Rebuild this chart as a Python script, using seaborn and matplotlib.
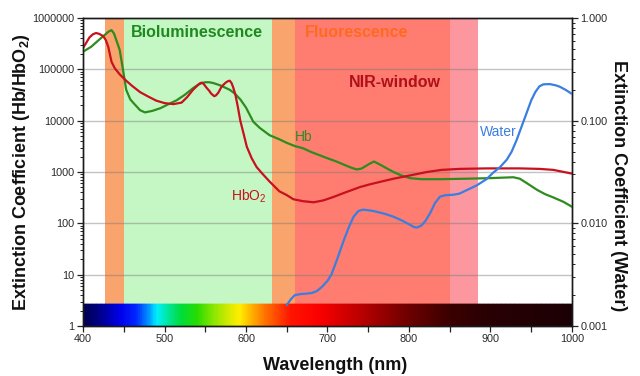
import numpy as np
import pandas as pd
import matplotlib
matplotlib.use("Agg")
import matplotlib.pyplot as plt
from matplotlib.colors import LinearSegmentedColormap
from matplotlib.ticker import LogLocator, NullFormatter, FixedLocator, FixedFormatter, MultipleLocator
import seaborn as sns

# ---------------- data ----------------
hb_nm = [400, 410, 420, 430, 432, 435, 438, 442, 445, 449, 453, 458, 462, 470, 476, 485, 495, 505,
         515, 525, 535, 542, 546, 550, 555, 560, 568, 580, 586, 593, 600, 609, 617, 629, 640, 650,
         660, 670, 680, 691, 700, 711, 722, 730, 736, 742, 750, 757, 765, 773, 781, 791, 801, 815,
         840, 870, 900, 928, 936, 945, 957, 967, 977, 990, 1000]
hb_val = [2.2e5, 2.75e5, 3.8e5, 5.2e5, 5.5e5, 5.8e5, 5.0e5, 3.3e5, 2.4e5, 1.0e5, 4.0e4, 2.6e4,
          2.2e4, 1.6e4, 1.45e4, 1.55e4, 1.75e4, 2.1e4, 2.5e4, 3.2e4, 4.3e4, 5.1e4, 5.4e4, 5.6e4,
          5.6e4, 5.4e4, 4.9e4, 4.0e4, 3.4e4, 2.6e4, 1.8e4, 9.5e3, 7.2e3, 5.2e3, 4.4e3, 3.7e3,
          3.2e3, 2.9e3, 2.45e3, 2.1e3, 1.85e3, 1.6e3, 1.35e3, 1.2e3, 1.12e3, 1.17e3, 1.4e3,
          1.6e3, 1.38e3, 1.17e3, 1.0e3, 850, 760, 725, 725, 740, 760, 790, 740, 600, 450, 370,
          320, 260, 210]

hbo2_nm = [400, 404, 408, 412, 416, 420, 425, 428, 431, 435, 439, 445, 452, 460, 470, 480, 490,
           500, 511, 521, 528, 535, 542, 544, 546, 548, 552, 555, 557, 561, 563, 566, 570, 575,
           578, 580, 582, 584, 587, 590, 593, 597, 601, 607, 613, 620, 629, 641, 650, 658, 670,
           683, 695, 707, 720, 740, 752, 765, 781, 800, 822, 840, 862, 895, 936, 960, 977, 1000]
hbo2_val = [2.6e5, 3.3e5, 4.2e5, 4.8e5, 5.1e5, 4.9e5, 4.4e5, 3.7e5, 2.75e5, 1.4e5, 1.05e5,
            8.0e4, 6.2e4, 4.8e4, 3.6e4, 2.95e4, 2.45e4, 2.2e4, 2.1e4, 2.25e4, 2.9e4, 4.0e4,
            5.1e4, 5.4e4, 5.5e4, 5.2e4, 4.3e4, 3.8e4, 3.4e4, 3.0e4, 3.1e4, 3.5e4, 4.6e4, 5.5e4,
            5.9e4, 6.0e4, 5.5e4, 4.6e4, 3.2e4, 1.85e4, 1.0e4, 5.6e3, 3.1e3, 1.85e3, 1.25e3, 930,
            650, 420, 355, 295, 270, 257, 280, 325, 390, 510, 575, 645, 740, 850, 1000, 1100,
            1150, 1175, 1175, 1150, 1100, 930]

water_nm = [650, 655, 660, 666, 675, 681, 687, 693, 700, 705, 712, 719, 726, 732, 738, 744, 756,
            770, 781, 792, 800, 806, 810, 815, 820, 826, 832, 838, 845, 855, 862, 870, 883, 895,
            903, 912, 920, 926, 932, 938, 944, 950, 955, 960, 965, 973, 980, 985, 992, 1000]
water_val = [0.0016, 0.00182, 0.0020, 0.00204, 0.00207, 0.0021, 0.00219, 0.0024, 0.00275,
             0.0032, 0.0045, 0.0065, 0.0091, 0.0116, 0.0132, 0.0136, 0.0132, 0.0124, 0.0116,
             0.0106, 0.0098, 0.0092, 0.0091, 0.0095, 0.0105, 0.0126, 0.0158, 0.0182, 0.0188,
             0.019, 0.0195, 0.0209, 0.0234, 0.0269, 0.031, 0.0355, 0.0417, 0.050, 0.0646,
             0.087, 0.117, 0.158, 0.19, 0.216, 0.226, 0.227, 0.221, 0.214, 0.2, 0.182]

# shaded wavelength windows (start, end)
band_orange1 = (427, 450)
band_biolum = (450, 632)
band_orange2 = (632, 660)
band_nir = (660, 850)
band_pink = (850, 885)

left_ticks = [1, 10, 100, 1000, 10000, 100000, 1000000]
left_ticklabels = ["1", "10", "100", "1000", "10000", "100000", "1000000"]
right_ticks = [0.001, 0.01, 0.1, 1.0]
right_ticklabels = ["0.001", "0.010", "0.100", "1.000"]
x_ticks = [400, 500, 600, 700, 800, 900, 1000]

# ---------------- style ----------------
sns.set_theme(style="white")
plt.rcParams["font.family"] = ["Liberation Sans", "DejaVu Sans"]
plt.rcParams["mathtext.fontset"] = "custom"
plt.rcParams["mathtext.rm"] = "Liberation Sans"
plt.rcParams["mathtext.it"] = "Liberation Sans:italic"
plt.rcParams["mathtext.bf"] = "Liberation Sans:bold"

fig = plt.figure(figsize=(6.4, 3.76), dpi=100)
ax = fig.add_axes([83 / 640, 1 - 326 / 376, (572 - 83) / 640, (326 - 18) / 376])
ax.set_yscale("log")
ax.set_xlim(400, 1000)
ax.set_ylim(1, 1e6)

# bands
ax.axvspan(*band_orange1, color="#F9A46C", lw=0, zorder=0)
ax.axvspan(*band_biolum, color="#C5F7C5", lw=0, zorder=0)
ax.axvspan(*band_orange2, color="#F9A46C", lw=0, zorder=0)
ax.axvspan(*band_nir, color="#FE7C70", lw=0, zorder=0)
ax.axvspan(*band_pink, color="#FC97A0", lw=0, zorder=0)

# grid lines
for v in left_ticks[1:-1]:
    ax.axhline(v, color="#7a7a7a", alpha=0.45, lw=1.0, zorder=1)

# spectrum bar
spec_anchors = [(400, (0, 0, 80)), (420, (0, 0, 140)), (445, (0, 0, 235)), (465, (0, 40, 255)),
                (480, (0, 150, 255)), (490, (0, 240, 255)), (505, (0, 230, 150)),
                (520, (0, 220, 60)), (540, (40, 220, 0)), (560, (140, 230, 0)),
                (583, (230, 235, 0)), (592, (255, 240, 0)), (605, (255, 185, 0)),
                (625, (255, 110, 0)), (655, (255, 20, 0)), (690, (250, 0, 0)),
                (730, (200, 0, 0)), (800, (110, 0, 0)), (850, (60, 0, 0)),
                (900, (40, 0, 4)), (1000, (28, 0, 4))]
cmap = LinearSegmentedColormap.from_list(
    "spec", [((w - 400) / 600, tuple(c / 255 for c in col)) for w, col in spec_anchors])
wl = np.linspace(400, 1000, 601)
xx = np.vstack([wl, wl])
yy = np.vstack([np.full_like(wl, 1.0), np.full_like(wl, 2.66)])
ax.pcolormesh(xx, yy, xx, cmap=cmap, shading="gouraud", zorder=2)

# curves
df_hb = pd.DataFrame({"nm": hb_nm, "val": hb_val})
df_o2 = pd.DataFrame({"nm": hbo2_nm, "val": hbo2_val})
sns.lineplot(data=df_hb, x="nm", y="val", ax=ax, color="#2E8C1E", lw=1.6, zorder=4)
sns.lineplot(data=df_o2, x="nm", y="val", ax=ax, color="#C8101E", lw=1.6, zorder=4)

ax2 = ax.twinx()
ax2.set_yscale("log")
ax2.set_ylim(0.001, 1.0)
df_w = pd.DataFrame({"nm": water_nm, "val": water_val})
sns.lineplot(data=df_w, x="nm", y="val", ax=ax2, color="#3A7EE0", lw=1.6, zorder=4)
ax2.set_xlim(400, 1000)

# labels inside
ax.text(540, 5.3e5, "Bioluminescence", color="#1E8A1E", fontsize=11.5, fontweight="bold",
        ha="center", va="center", zorder=5)
ax.text(736, 5.3e5, "Fluorescence", color="#FF6A1E", fontsize=11.5, fontweight="bold",
        ha="center", va="center", zorder=5)
ax.text(783, 5.6e4, "NIR-window", color="#B0101A", fontsize=11.5, fontweight="bold",
        ha="center", va="center", zorder=5)
ax.text(671, 4.9e3, "Hb", color="#2E8C1E", fontsize=10, ha="center", va="center", zorder=5)
ax.text(604, 340, "HbO$_2$", color="#C8101E", fontsize=10, ha="center", va="center", zorder=5)
ax2.text(909, 0.078, "Water", color="#3A7EE0", fontsize=10, ha="center", va="center", zorder=5)

# axes formatting
ax.set_xlabel("")
ax.set_ylabel("")
ax2.set_ylabel("")
ax.yaxis.set_major_locator(FixedLocator(left_ticks))
ax.yaxis.set_major_formatter(FixedFormatter(left_ticklabels))
ax.yaxis.set_minor_locator(LogLocator(base=10, subs=np.arange(2, 10)))
ax.yaxis.set_minor_formatter(NullFormatter())
ax2.yaxis.set_major_locator(FixedLocator(right_ticks))
ax2.yaxis.set_major_formatter(FixedFormatter(right_ticklabels))
ax2.yaxis.set_minor_locator(LogLocator(base=10, subs=np.arange(2, 10)))
ax2.yaxis.set_minor_formatter(NullFormatter())
ax.xaxis.set_major_locator(FixedLocator(x_ticks))
ax.xaxis.set_minor_locator(MultipleLocator(50))

for a in (ax, ax2):
    a.tick_params(axis="both", which="major", direction="out", length=4, width=0.9,
                  labelsize=7.8, labelcolor="#2a2a2a", color="#222222", pad=2)
    a.tick_params(axis="both", which="minor", direction="out", length=2.5, width=0.7,
                  color="#222222")
    for s in a.spines.values():
        s.set_color("#1a1a1a")
        s.set_linewidth(1.0)
ax.tick_params(axis="x", which="minor", length=4, width=0.9)
ax.tick_params(axis="y", left=True, which="both")
ax.tick_params(axis="x", bottom=True, which="both")
ax2.tick_params(axis="y", right=True, which="both")

fig.text(0.034, 1 - 172 / 376, "Extinction Coefficient (Hb/HbO$_\\mathbf{2}$)", rotation=90,
         fontsize=13, fontweight="bold", ha="center", va="center", color="#111111")
fig.text(0.966, 1 - 186 / 376, "Extinction Coefficient (Water)", rotation=270,
         fontsize=13, fontweight="bold", ha="center", va="center", color="#111111")
fig.text(335 / 640, 1 - 366 / 376, "Wavelength (nm)", fontsize=13, fontweight="bold",
         ha="center", va="center", color="#111111")

fig.savefig("out.png", dpi=100)
